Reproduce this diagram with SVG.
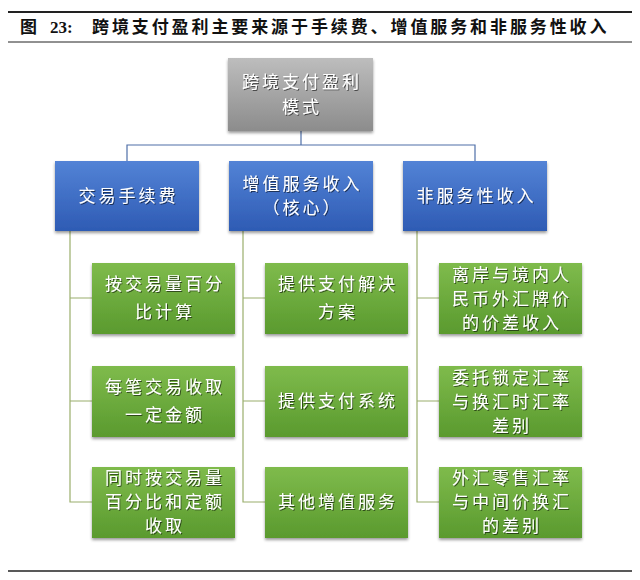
<svg xmlns="http://www.w3.org/2000/svg" width="640" height="580" viewBox="0 0 640 580">
<defs>
<linearGradient id="gGray" x1="0" y1="0" x2="0" y2="1"><stop offset="0" stop-color="#bdbdbd"/><stop offset="1" stop-color="#8c8c8c"/></linearGradient>
<linearGradient id="gBlue" x1="0" y1="0" x2="0" y2="1"><stop offset="0" stop-color="#5383d6"/><stop offset="1" stop-color="#2e5bb4"/></linearGradient>
<linearGradient id="gGreen" x1="0" y1="0" x2="0" y2="1"><stop offset="0" stop-color="#7fbb4c"/><stop offset="1" stop-color="#5a9a2e"/></linearGradient>
<filter id="bs" x="-10%" y="-10%" width="120%" height="130%"><feDropShadow dx="0" dy="2" stdDeviation="1.5" flood-color="#000" flood-opacity="0.4"/></filter>
<filter id="ts" x="-10%" y="-20%" width="120%" height="150%"><feDropShadow dx="1" dy="1" stdDeviation="0.6" flood-color="#000" flood-opacity="0.55"/></filter>
</defs>
<style>
.title{font-family:"Liberation Serif","Noto Sans CJK SC",serif;font-weight:bold;font-size:17px;fill:#111}
.t{font-family:"Noto Sans CJK SC","Noto Sans CJK JP",sans-serif;font-size:17px;fill:#fff;text-anchor:middle;letter-spacing:3px;filter:url(#ts)}
.gray{fill:url(#gGray);filter:url(#bs)}
.blue{fill:url(#gBlue);filter:url(#bs)}
.green{fill:url(#gGreen);filter:url(#bs)}
.c1{fill:none;stroke:#4f6fa8;stroke-width:1.2}
.c2{fill:none;stroke:#9aae6c;stroke-width:1.2}
</style>
<line x1="8" y1="12" x2="632" y2="12" stroke="#222" stroke-width="2"/>
<text class="title" y="33"><tspan x="20">图</tspan><tspan x="50">23:</tspan><tspan x="92" letter-spacing="2.9">跨境支付盈利主要来源于手续费、增值服务和非服务性收入</tspan></text>
<line x1="8" y1="42" x2="632" y2="42" stroke="#222" stroke-width="1"/>
<line x1="8" y1="571" x2="632" y2="571" stroke="#222" stroke-width="1.5"/>
<g id="connectors">
<path class="c1" d="M301,131 V145 M127,161 V145 H475 V161"/>
<path class="c2" d="M70,231 V502 H92 M70,298 H92 M70,401 H92"/>
<path class="c2" d="M243,231 V502 H265 M243,298 H265 M243,401 H265"/>
<path class="c2" d="M417,231 V502 H439 M417,298 H439 M417,401 H439"/>
</g>
<g id="root"><rect class="gray" x="228" y="58" width="145" height="73"/><text class="t" x="302"><tspan x="302" y="88">跨境支付盈利</tspan><tspan x="302" y="113">模式</tspan></text></g>
<g id="fee"><rect class="blue" x="55" y="161" width="144" height="70"/><text class="t" x="128.5" y="202">交易手续费</text></g>
<g id="vas"><rect class="blue" x="229" y="161" width="144" height="70"/><text class="t"><tspan x="302.5" y="190">增值服务收入</tspan><tspan x="302.5" y="214">（核心）</tspan></text></g>
<g id="nonservice"><rect class="blue" x="403" y="161" width="144" height="70"/><text class="t" x="476.5" y="202">非服务性收入</text></g>
<g id="f1"><rect class="green" x="92" y="263" width="143" height="71"/><text class="t"><tspan x="165" y="290">按交易量百分</tspan><tspan x="165" y="318">比计算</tspan></text></g>
<g id="f2"><rect class="green" x="92" y="366" width="143" height="71"/><text class="t"><tspan x="165" y="393">每笔交易收取</tspan><tspan x="165" y="421">一定金额</tspan></text></g>
<g id="f3"><rect class="green" x="92" y="467" width="143" height="71"/><text class="t"><tspan x="165" y="484">同时按交易量</tspan><tspan x="165" y="508">百分比和定额</tspan><tspan x="165" y="532">收取</tspan></text></g>
<g id="v1"><rect class="green" x="265" y="263" width="143" height="71"/><text class="t"><tspan x="338" y="290">提供支付解决</tspan><tspan x="338" y="318">方案</tspan></text></g>
<g id="v2"><rect class="green" x="265" y="366" width="143" height="71"/><text class="t" x="338" y="407">提供支付系统</text></g>
<g id="v3"><rect class="green" x="265" y="467" width="143" height="71"/><text class="t" x="338" y="508">其他增值服务</text></g>
<g id="n1"><rect class="green" x="439" y="263" width="143" height="71"/><text class="t"><tspan x="512" y="281">离岸与境内人</tspan><tspan x="512" y="305">民币外汇牌价</tspan><tspan x="512" y="329">的价差收入</tspan></text></g>
<g id="n2"><rect class="green" x="439" y="366" width="143" height="71"/><text class="t"><tspan x="512" y="384">委托锁定汇率</tspan><tspan x="512" y="408">与换汇时汇率</tspan><tspan x="512" y="432">差别</tspan></text></g>
<g id="n3"><rect class="green" x="439" y="467" width="143" height="71"/><text class="t"><tspan x="512" y="484">外汇零售汇率</tspan><tspan x="512" y="508">与中间价换汇</tspan><tspan x="512" y="532">的差别</tspan></text></g>
</svg>
